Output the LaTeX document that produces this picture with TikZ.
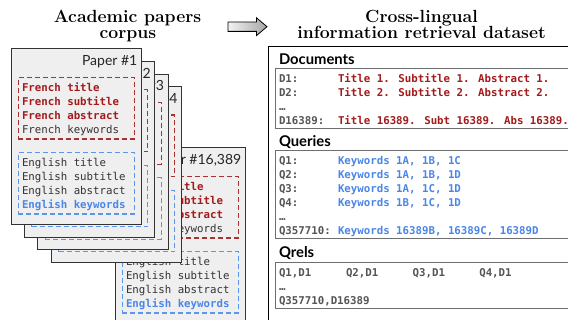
\documentclass[tikz,border=0pt]{standalone}
\usepackage{fontspec}
\newfontfamily\headfont{Lato}
\newfontfamily\codefont{DejaVu Sans Mono}
\newcommand\codesize{\fontsize{10.75}{12}\selectfont}

\definecolor{docred}{HTML}{A31A1A}
\definecolor{kwblue}{HTML}{4A86E8}
\definecolor{dashred}{HTML}{A83232}
\definecolor{dashblue}{HTML}{5A96F0}
\definecolor{papergray}{HTML}{EFEFEF}
\definecolor{inkgray}{HTML}{333333}
\definecolor{labelgray}{HTML}{555555}
\definecolor{boxgray}{HTML}{6E6E6E}

\tikzset{
  every node/.style={inner sep=0pt, outer sep=0pt},
  titletext/.style={font=\rmfamily\bfseries\fontsize{17.6}{19}\selectfont, anchor=base, text=black},
  headtext/.style={font=\headfont\bfseries\fontsize{14.8}{17}\selectfont, anchor=base west, text=black},
  papertag/.style={font=\headfont\fontsize{14}{16}\selectfont, anchor=base east, text=black!85},
  plain/.style={font=\codefont\codesize, anchor=base west, text=inkgray},
  redbold/.style={font=\codefont\codesize\bfseries, anchor=base west, text=docred},
  bluebold/.style={font=\codefont\codesize\bfseries, anchor=base west, text=kwblue},
  rowlabel/.style={font=\codefont\codesize\bfseries, anchor=base west, text=labelgray},
  paperbox/.style={draw=inkgray, line width=1pt, fill=papergray,
                   minimum width=130.5pt, minimum height=175.5pt},
  redframe/.style={draw=dashred, line width=1.2pt, dash pattern=on 5pt off 3pt,
                   minimum width=116pt, minimum height=61.7pt},
  blueframe/.style={draw=dashblue, line width=1.2pt, dash pattern=on 5pt off 3pt,
                    minimum width=116pt, minimum height=61.3pt},
  listbox/.style={draw=boxgray, line width=1pt, fill=white},
  outerline/.style={draw=black, line width=1pt},
  arrowbody/.style={draw=black, line width=0.8pt, left color=gray!10, right color=gray!70},
}

% One paper of the corpus: #1 name prefix, #2/#3 offset, #4 tag
\newcommand\drawpaper[4]{%
  \begin{scope}[shift={(#2,#3)}]
    \node[paperbox] (#1) at (76.25,136.75) {};
    \node[papertag] (#1-tag) at (137.3,65.7) {#4};
    \node[redframe] (#1-fr) at (76.3,108.15) {};
    \node[redbold] (#1-frt) at (22,91.5) {French title};
    \node[redbold] (#1-frs) at (22,105.5) {French subtitle};
    \node[redbold] (#1-fra) at (22,119.5) {French abstract};
    \node[plain]   (#1-frk) at (22,133.5) {French keywords};
    \node[blueframe] (#1-en) at (76.3,183.35) {};
    \node[plain]    (#1-ent) at (22,166.5) {English title};
    \node[plain]    (#1-ens) at (22,180.5) {English subtitle};
    \node[plain]    (#1-ena) at (22,194.5) {English abstract};
    \node[bluebold] (#1-enk) at (22,208.5) {English keywords};
  \end{scope}}

\begin{document}
\begin{tikzpicture}[x=1pt,y=-1pt]
  \useasboundingbox (0,0) rectangle (568,320);
  \clip (0,0) rectangle (568,320);

  % headings
  \node[titletext] (lt1) at (127.5,22.7) {Academic papers};
  \node[titletext] (lt2) at (128,38.3) {corpus};
  \node[titletext] (rt1) at (421.5,22.7) {Cross-lingual};
  \node[titletext] (rt2) at (421.5,38.3) {information retrieval dataset};

  % transformation arrow
  \coordinate (ar) at (228,26.7);
  \draw[arrowbody] (ar) ++(0,-4.7) -- ++(28.5,0) -- ++(0,-4.2) -- ++(10.5,8.9)
        -- ++(-10.5,8.9) -- ++(0,-4.2) -- ++(-28.5,0) -- cycle;

  % stack of papers, back to front
  \drawpaper{p16389}{104}{99}{Paper \#16,389}
  \drawpaper{p4}{40.2}{37.8}{Paper \#4}
  \drawpaper{p3}{26.8}{25.2}{Paper \#3}
  \drawpaper{p2}{13.4}{12.6}{Paper \#2}
  \drawpaper{p1}{0}{0}{Paper \#1}

  % dataset panel
  \draw[outerline] (268,340) |- (600,46.5);

  % documents
  \node[headtext] (hdoc) at (279,65) {Documents};
  \draw[listbox] (600,69) -| (275,129) -- (600,129);
  \node[rowlabel] (d1l) at (279,82.3) {D1:};
  \node[redbold]  (d1)  at (338,82.3) {Title 1. Subtitle 1. Abstract 1.};
  \node[rowlabel] (d2l) at (279,96.5) {D2:};
  \node[redbold]  (d2)  at (338,96.5) {Title 2. Subtitle 2. Abstract 2.};
  \node[rowlabel] (ddots) at (279,110.5) {…};
  \node[rowlabel] (dnl) at (279,124.8) {D16389:};
  \node[redbold]  (dn)  at (338,124.8) {Title 16389. Subt 16389. Abs 16389.};

  % queries
  \node[headtext] (hq) at (279,146.5) {Queries};
  \draw[listbox] (600,151) -| (275,239) -- (600,239);
  \node[rowlabel] (q1l) at (279,164.3) {Q1:};
  \node[bluebold] (q1)  at (338,164.3) {Keywords 1A, 1B, 1C};
  \node[rowlabel] (q2l) at (279,178.4) {Q2:};
  \node[bluebold] (q2)  at (338,178.4) {Keywords 1A, 1B, 1D};
  \node[rowlabel] (q3l) at (279,192.5) {Q3:};
  \node[bluebold] (q3)  at (338,192.5) {Keywords 1A, 1C, 1D};
  \node[rowlabel] (q4l) at (279,206.6) {Q4:};
  \node[bluebold] (q4)  at (338,206.6) {Keywords 1B, 1C, 1D};
  \node[rowlabel] (qdots) at (279,220.5) {…};
  \node[rowlabel] (qnl) at (279,234.8) {Q357710:};
  \node[bluebold] (qn)  at (338,234.8) {Keywords 16389B, 16389C, 16389D};

  % qrels
  \node[headtext] (hr) at (279,258) {Qrels};
  \draw[listbox] (600,263) -| (275,309) -- (600,309);
  \node[rowlabel] (r1) at (279,277) {Q1,D1};
  \node[rowlabel] (r2) at (346,277) {Q2,D1};
  \node[rowlabel] (r3) at (412.7,277) {Q3,D1};
  \node[rowlabel] (r4) at (479.3,277) {Q4,D1};
  \node[rowlabel] (rdots) at (279,290.5) {…};
  \node[rowlabel] (rn) at (279,304.5) {Q357710,D16389};
\end{tikzpicture}
\end{document}
